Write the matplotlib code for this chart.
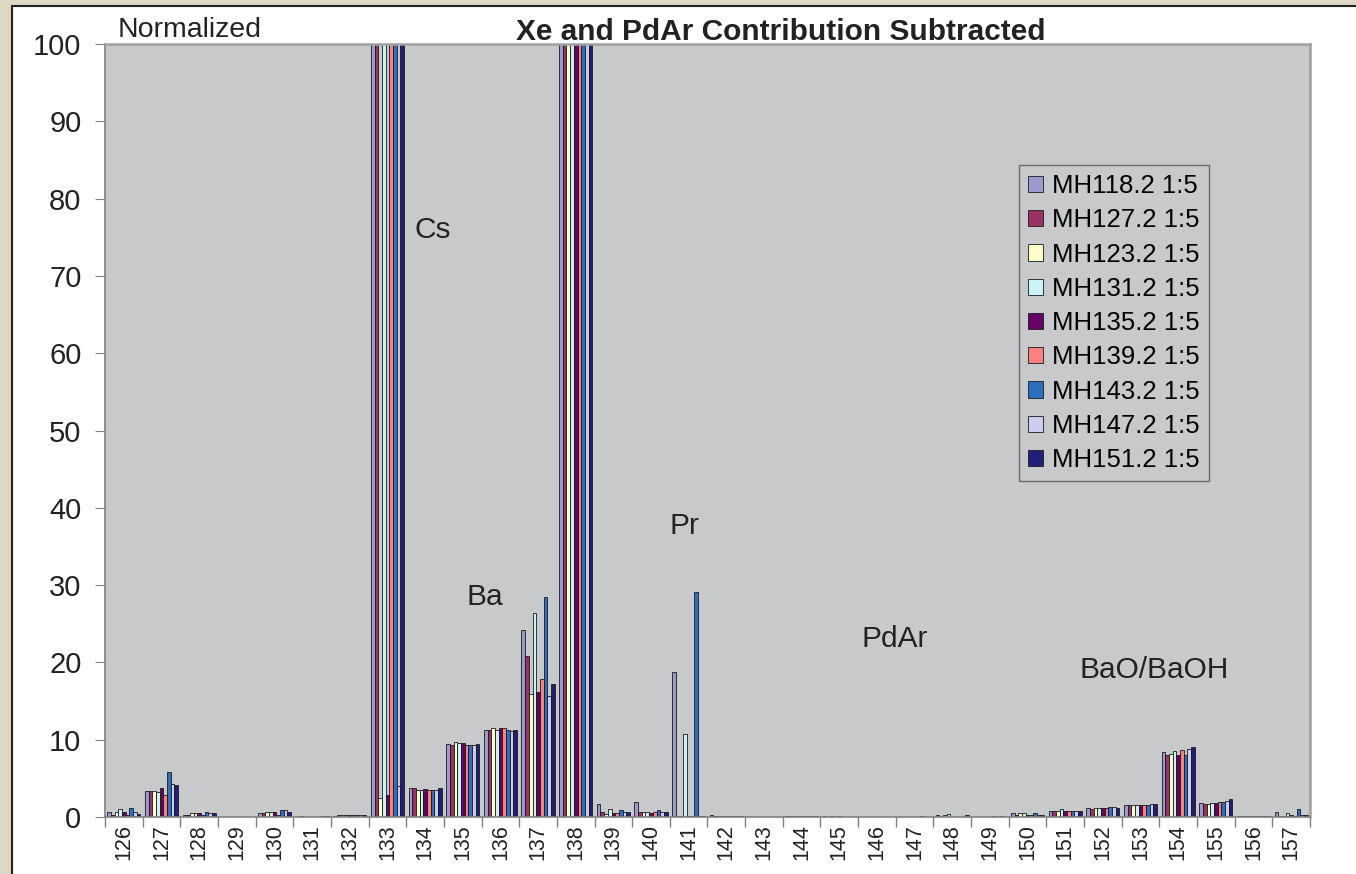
import numpy as np
import matplotlib
matplotlib.use("Agg")
import matplotlib.pyplot as plt
from matplotlib.patches import Rectangle

# categories (mass numbers)
masses = list(range(126, 158))

series_names = ['MH118.2 1:5', 'MH127.2 1:5', 'MH123.2 1:5', 'MH131.2 1:5', 'MH135.2 1:5',
                'MH139.2 1:5', 'MH143.2 1:5', 'MH147.2 1:5', 'MH151.2 1:5']
colors = ['#9999cc', '#993366', '#ffffcc', '#ccf2f5', '#660066', '#ff8080', '#2f6fbf', '#ccccee', '#20207a']

# values per mass, one column per series (tall Cs / 138 bars run off the scale)
v126 = [0.7, 0.3, 0.6, 1.0, 0.7, 0.2, 1.2, 0.7, 0.4]
v127 = [3.4, 3.4, 3.4, 3.2, 3.75, 2.9, 5.8, 4.3, 4.1]
v128 = [0.3, 0.3, 0.5, 0.5, 0.5, 0.3, 0.7, 0.5, 0.5]
v129 = [0, 0, 0, 0, 0, 0, 0, 0, 0]
v130 = [0.5, 0.5, 0.7, 0.7, 0.7, 0.3, 0.9, 0.9, 0.7]
v131 = [0, 0.1, 0, 0, 0, 0, 0, 0.1, 0.1]
v132 = [0.1, 0.3, 0.2, 0.3, 0.3, 0.3, 0.2, 0.3, 0.2]
v133 = [120, 120, 2.5, 120, 2.85, 120, 120, 4.0, 120]
v134 = [3.7, 3.7, 3.5, 3.5, 3.6, 3.5, 3.5, 3.5, 3.7]
v135 = [9.45, 9.3, 9.7, 9.6, 9.6, 9.3, 9.3, 9.3, 9.45]
v136 = [11.3, 11.3, 11.5, 11.3, 11.5, 11.5, 11.3, 11.1, 11.3]
v137 = [24.2, 20.8, 15.95, 26.4, 16.2, 17.85, 28.45, 15.65, 17.2]
v138 = [120, 120, 120, 120, 120, 120, 120, 120, 120]
v139 = [1.7, 0.7, 0.35, 1.0, 0.5, 0.5, 0.85, 0.65, 0.65]
v140 = [2.0, 0.7, 0.7, 0.7, 0.5, 0.7, 0.85, 0.7, 0.7]
v141 = [18.75, 0.1, 0.1, 10.7, 0.1, 0.1, 29.1, 0.1, 0.1]
v142 = [0.3, 0.15, 0.15, 0.15, 0.15, 0.15, 0.15, 0.15, 0.15]
v143 = [0, 0, 0, 0, 0, 0, 0, 0, 0]
v144 = [0.15, 0.15, 0.15, 0.15, 0.15, 0.1, 0.15, 0.1, 0.15]
v145 = [0.1, 0, 0.1, 0, 0.1, 0, 0, 0, 0]
v146 = [0, 0, 0, 0, 0, 0, 0, 0, 0]
v147 = [0, 0, 0, 0, 0, 0, 0.1, 0, 0]
v148 = [0.2, 0, 0.2, 0.4, 0, 0, 0, 0, 0.2]
v149 = [0, 0, 0, 0, 0, 0.1, 0, 0.1, 0]
v150 = [0.5, 0.3, 0.5, 0.5, 0.3, 0.3, 0.5, 0.3, 0.3]
v151 = [0.8, 0.8, 0.8, 1.0, 0.8, 0.8, 0.8, 0.8, 0.8]
v152 = [1.1, 1.0, 1.1, 1.1, 1.1, 1.1, 1.3, 1.3, 1.1]
v153 = [1.5, 1.5, 1.5, 1.5, 1.5, 1.5, 1.5, 1.7, 1.7]
v154 = [8.4, 8.0, 8.2, 8.5, 8.0, 8.7, 8.0, 8.85, 9.0]
v155 = [1.77, 1.65, 1.65, 1.77, 1.77, 1.95, 1.95, 2.1, 2.3]
v156 = [0.1, 0.1, 0.1, 0.1, 0.1, 0.1, 0.1, 0.1, 0.1]
v157 = [0.6, 0.1, 0.1, 0.5, 0.25, 0.1, 1.0, 0.2, 0.3]

values = np.array([v126, v127, v128, v129, v130, v131, v132, v133, v134, v135, v136, v137,
                   v138, v139, v140, v141, v142, v143, v144, v145, v146, v147, v148, v149,
                   v150, v151, v152, v153, v154, v155, v156, v157])

# peak labels: (text, mass position of left edge, value)
peak_labels = [('Cs', 133.73, 76), ('Ba', 135.11, 28.5), ('Pr', 140.5, 37.6),
               ('PdAr', 145.6, 23), ('BaO/BaOH', 151.39, 19)]

plt.rcParams['font.family'] = ['Liberation Sans', 'DejaVu Sans']

fig = plt.figure(figsize=(13.56, 8.74), dpi=100)
fig.patch.set_facecolor('#ddd8c3')
# white chart area behind everything
fig.patches.append(Rectangle((12 / 1356, -0.1), 1.2, 1.1 - 6 / 874, transform=fig.transFigure,
                             facecolor='white', edgecolor='#222222', linewidth=1.5, zorder=-5))

ax = fig.add_axes([105 / 1356, 1 - 817 / 874, (1310 - 105) / 1356, (817 - 44) / 874])
ax.set_zorder(2)
ax.set_facecolor('#c8c9cb')

n = len(series_names)
group = 0.88
w = group / n
x = np.arange(len(masses))
for j in range(n):
    ax.bar(x - group / 2 + w * (j + 0.5), values[:, j], width=w, color=colors[j],
           edgecolor='#1a1a1a', linewidth=0.6, label=series_names[j])

ax.set_xlim(-0.5, len(masses) - 0.5)
ax.set_ylim(0, 100)
ax.set_yticks(range(0, 101, 10))
ax.tick_params(axis='y', labelsize=21, length=7, color='#808080', pad=10, labelcolor='#222222')
ax.set_xticks(x)
ax.set_xticklabels([str(m) for m in masses], rotation=90)
ax.tick_params(axis='x', which='major', length=0, labelsize=15.5, pad=5, labelcolor='#222222')
ax.set_xticks(np.arange(-0.5, len(masses) + 0.5, 1), minor=True)
ax.tick_params(axis='x', which='minor', length=7, color='#808080', width=1)

for s in ['left', 'bottom']:
    ax.spines[s].set_color('#808080')
    ax.spines[s].set_linewidth(1.2)
for s in ['top', 'right']:
    ax.spines[s].set_color('#a0a0a0')
    ax.spines[s].set_linewidth(1.8)

for txt, pos, val in peak_labels:
    ax.text(pos - masses[0], val, txt, fontsize=21.5, va='center', ha='left', color='#222222')

leg = ax.legend(loc='upper left', bbox_to_anchor=((1019 - 105) / 1205, 1 - (165 - 44) / 773),
                borderaxespad=0, fontsize=18.5, frameon=True, fancybox=False,
                handlelength=0.6, handleheight=0.6, handletextpad=0.35, labelspacing=0.4,
                borderpad=0.35)
leg.get_frame().set_facecolor('#c8c9cb')
leg.get_frame().set_edgecolor('#555555')
leg.get_frame().set_linewidth(1.0)

fig.text(118 / 1356, 1 - 30 / 874, 'Normalized', fontsize=20.5, va='center', ha='left', color='#222222')
fig.text(781 / 1356, 1 - 32 / 874, 'Xe and PdAr Contribution Subtracted', fontsize=21.5,
         fontweight='bold', va='center', ha='center', color='#222222')

fig.savefig('out.png', dpi=100, facecolor=fig.get_facecolor())
